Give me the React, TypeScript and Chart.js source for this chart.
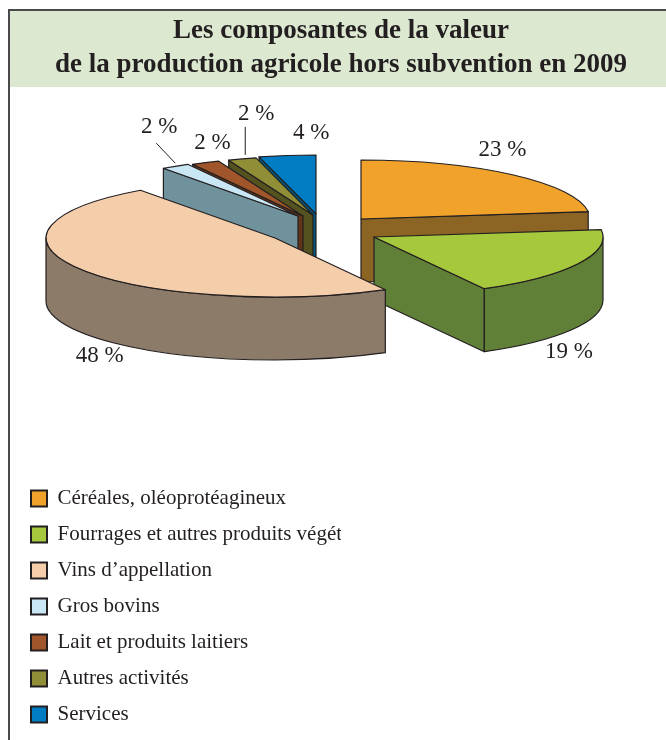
import React, { useEffect, useRef } from "react";
import { Chart, registerables } from "chart.js";

Chart.register(...registerables);

const TITLE_LINES = [
  "Les composantes de la valeur",
  "de la production agricole hors subvention en 2009",
];
const CATEGORIES = [
  "Céréales, oléoprotéagineux",
  "Fourrages et autres produits végétaux",
  "Vins d’appellation",
  "Gros bovins",
  "Lait et produits laitiers",
  "Autres activités",
  "Services",
];
const SHARES = [23, 19, 48, 2, 2, 2, 4];

const TOP_COLORS = ["#f0a22b", "#a5c83d", "#f4ceaa", "#c8e6f3", "#a0562a", "#908f37", "#007cc3"];
const SIDE_COLORS = ["#8c6525", "#607f37", "#8d7b6a", "#6f929d", "#643418", "#545320", "#005a83"];
const INK = "#231f20";

// Perspective projection and exploded layout of the pie
const RADIUS = 229;
const SQUASH = 59 / 229;
const DEPTH = 63;
const PIE_CENTRE = { x: 320, y: 225 };
const EXPLODE = [
  { x: 41, y: -6 },
  { x: 54, y: 12 },
  { x: -45, y: 13 },
  { x: -22, y: -9 },
  { x: -17, y: -9 },
  { x: -7, y: -10 },
  { x: -4, y: -11 },
];
const DRAW_ORDER = [6, 5, 4, 3, 0, 1, 2];
const LABEL_SHIFT = [
  { x: -10, y: -25 },
  { x: -9, y: 88 },
  { x: 18, y: 86 },
  { x: -16, y: -39 },
  { x: 7, y: -20 },
  { x: 14, y: -45 },
  { x: 24, y: -23 },
];
const LEADERS: Record<number, number[]> = {
  3: [-19, -23, 0, -3],
  5: [3, -32, 3, -4],
};

const pie3d = {
  id: "pie3d",
  beforeDraw(chart: any) {
    const { ctx, width, height } = chart;
    ctx.save();
    ctx.fillStyle = "#dce8d0";
    ctx.fillRect(10, 11, width - 10, 76);
    ctx.fillStyle = "#4a4a4c";
    ctx.fillRect(8, 9, width - 8, 2);
    ctx.fillRect(8, 9, 2, height - 9);
    ctx.restore();
  },
  beforeDatasetDraw(chart: any) {
    const { ctx } = chart;
    const arcs = chart.getDatasetMeta(0).data;
    const rx = RADIUS;
    const ry = RADIUS * SQUASH;

    const cross = (ax: number, ay: number, bx: number, by: number) => ax * by - ay * bx;
    const outline = () => {
      ctx.strokeStyle = INK;
      ctx.lineWidth = 1.2;
      ctx.lineJoin = "round";
      ctx.stroke();
    };

    for (const i of DRAW_ORDER) {
      const arc = arcs[i];
      const a1 = arc.startAngle;
      const a2 = arc.endAngle;
      const mid = (a1 + a2) / 2;
      const ax = PIE_CENTRE.x + EXPLODE[i].x;
      const ay = PIE_CENTRE.y + EXPLODE[i].y;
      const px = (a: number) => ax + rx * Math.cos(a);
      const py = (a: number) => ay + ry * Math.sin(a);

      // radial cut faces seen from the front
      for (const a of [a1, a2]) {
        const ex = Math.cos(a);
        const ey = SQUASH * Math.sin(a);
        const inner = cross(ex, ey, Math.cos(mid), SQUASH * Math.sin(mid));
        const down = cross(ex, ey, 0, 1);
        if (inner * down < -1e-6) {
          ctx.beginPath();
          ctx.moveTo(ax, ay);
          ctx.lineTo(px(a), py(a));
          ctx.lineTo(px(a), py(a) + DEPTH);
          ctx.lineTo(ax, ay + DEPTH);
          ctx.closePath();
          ctx.fillStyle = SIDE_COLORS[i];
          ctx.fill();
          outline();
        }
      }

      // outer wall: the part of the rim that faces the viewer
      const w1 = Math.max(a1, 0);
      const w2 = Math.min(a2, Math.PI);
      if (w2 > w1) {
        ctx.beginPath();
        ctx.ellipse(ax, ay, rx, ry, 0, w1, w2, false);
        ctx.lineTo(px(w2), py(w2) + DEPTH);
        ctx.ellipse(ax, ay + DEPTH, rx, ry, 0, w2, w1, true);
        ctx.closePath();
        ctx.fillStyle = SIDE_COLORS[i];
        ctx.fill();
        outline();
      }

      // top face: the library's own arc element, squashed onto the tilted plane
      ctx.save();
      ctx.translate(ax, ay);
      ctx.scale(1, SQUASH);
      ctx.translate(-arc.x, -arc.y);
      arc.draw(ctx);
      ctx.restore();
      ctx.beginPath();
      ctx.moveTo(ax, ay);
      ctx.ellipse(ax, ay, rx, ry, 0, a1, a2, false);
      ctx.closePath();
      outline();
    }

    // value labels
    ctx.save();
    ctx.font = '23px "Liberation Serif"';
    ctx.fillStyle = INK;
    ctx.textAlign = "center";
    ctx.textBaseline = "middle";
    SHARES.forEach((v, i) => {
      const arc = arcs[i];
      const m = (arc.startAngle + arc.endAngle) / 2;
      const bx = PIE_CENTRE.x + EXPLODE[i].x + rx * Math.cos(m);
      const by = PIE_CENTRE.y + EXPLODE[i].y + ry * Math.sin(m);
      ctx.fillText(`${v} %`, bx + LABEL_SHIFT[i].x, by + LABEL_SHIFT[i].y);
      const lead = LEADERS[i];
      if (lead) {
        ctx.beginPath();
        ctx.moveTo(bx + lead[0], by + lead[1]);
        ctx.lineTo(bx + lead[2], by + lead[3]);
        ctx.strokeStyle = INK;
        ctx.lineWidth = 1;
        ctx.stroke();
      }
    });
    ctx.restore();
    return false;
  },
};

export default function App() {
  const ref = useRef<HTMLCanvasElement | null>(null);

  useEffect(() => {
    const chart = new Chart(ref.current as HTMLCanvasElement, {
      type: "pie",
      data: {
        labels: CATEGORIES,
        datasets: [
          {
            data: SHARES,
            backgroundColor: TOP_COLORS,
            borderWidth: 0,
            radius: RADIUS,
          },
        ],
      },
      options: {
        responsive: false,
        animation: false,
        layout: { padding: { left: 16, right: 0, top: 0, bottom: 0 } },
        plugins: {
          tooltip: { enabled: false },
          title: {
            display: true,
            text: TITLE_LINES,
            color: INK,
            font: { family: '"Liberation Serif"', size: 27, weight: "bold", lineHeight: 1.25 },
            padding: { top: 14, bottom: 0 },
          },
          legend: {
            display: true,
            position: "left",
            align: "end",
            labels: {
              boxWidth: 16,
              boxHeight: 16,
              padding: 15,
              color: INK,
              font: { family: '"Liberation Serif"', size: 21, lineHeight: 1.15 },
              generateLabels: () =>
                CATEGORIES.map((text, index) => ({
                  text,
                  index,
                  fillStyle: TOP_COLORS[index],
                  strokeStyle: INK,
                  lineWidth: 2,
                  fontColor: INK,
                })),
            },
          },
        },
      },
      plugins: [pie3d],
    } as any);
    return () => chart.destroy();
  }, []);

  return (
    <canvas
      ref={ref}
      width={666}
      height={740}
      style={{ position: "absolute", left: 0, top: 0, display: "block" }}
    />
  );
}
